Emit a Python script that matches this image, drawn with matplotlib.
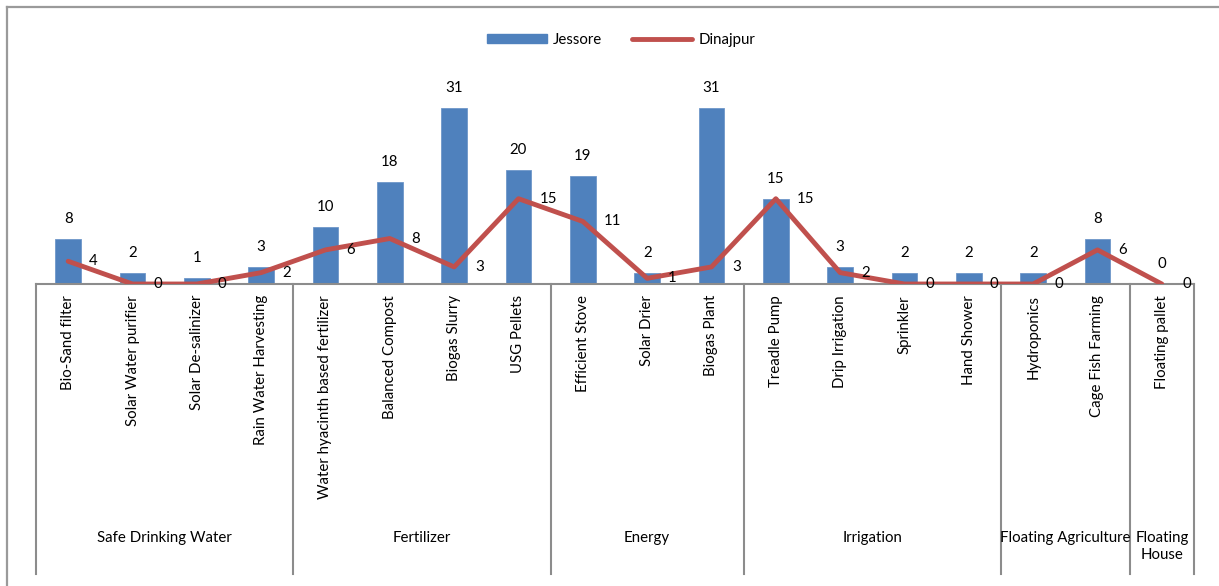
import numpy as np
import matplotlib
matplotlib.use("Agg")
import matplotlib.pyplot as plt
from matplotlib.lines import Line2D
from matplotlib.patches import Patch
import matplotlib.transforms as mtransforms

technologies = [
    "Bio-Sand filter", "Solar Water purifier", "Solar De-salinizer", "Rain Water Harvesting",
    "Water hyacinth based fertilizer", "Balanced Compost", "Biogas Slurry", "USG Pellets",
    "Efficient Stove", "Solar Drier", "Biogas Plant",
    "Treadle Pump", "Drip Irrigation", "Sprinkler", "Hand Shower",
    "Hydroponics", "Cage Fish Farming",
    "Floating pallet",
]
groups = ["Safe Drinking Water", "Fertilizer", "Energy", "Irrigation",
          "Floating Agriculture", "Floating\nHouse"]
group_sizes = [4, 4, 3, 4, 2, 1]

jessore = [8, 2, 1, 3, 10, 18, 31, 20, 19, 2, 31, 15, 3, 2, 2, 2, 8, 0]
dinajpur = [4, 0, 0, 2, 6, 8, 3, 15, 11, 1, 3, 15, 2, 0, 0, 0, 6, 0]

BAR_BLUE = "#4F81BD"
LINE_RED = "#C0504D"
GRID_GRAY = "#8C8C8C"
FS = 10.8

W, H = 1219, 586
fig = plt.figure(figsize=(W / 100, H / 100), dpi=100)
plt.rcParams["font.family"] = ["Lato", "DejaVu Sans"]

# chart area outline (top and left edges)
fig.add_artist(Line2D([7 / W, 7 / W], [0, 1 - 7 / H], transform=fig.transFigure,
                      color="#9A9A9A", lw=1.6))
fig.add_artist(Line2D([7 / W, 1], [1 - 7 / H, 1 - 7 / H], transform=fig.transFigure,
                      color="#9A9A9A", lw=1.6))

left, right, bottom, top = 36 / W, 1194 / W, 1 - 284 / H, 1 - 85 / H
ax = fig.add_axes([left, bottom, right - left, top - bottom])

x = np.arange(len(technologies))
ax.bar(x, jessore, width=0.4, color=BAR_BLUE, edgecolor="#6F97C9", linewidth=0.6,
       zorder=2, label="Jessore")
ax.plot(x, dinajpur, color=LINE_RED, lw=3.5, solid_joinstyle="round",
        solid_capstyle="round", zorder=3, label="Dinajpur")

for xi, v in zip(x, jessore):
    ax.annotate(str(v), (xi, v), xytext=(0, 20), textcoords="offset pixels",
                ha="center", va="center", fontsize=FS, color="black", zorder=4)
for xi, v in zip(x, dinajpur):
    ax.annotate(str(v), (xi, v), xytext=(21, 0), textcoords="offset pixels",
                ha="left", va="center", fontsize=FS, color="black", zorder=4)

ax.set_xlim(-0.5, len(technologies) - 0.5)
ax.set_ylim(0, 35)
ax.set_yticks([])
for s in ["top", "right", "left"]:
    ax.spines[s].set_visible(False)
ax.spines["bottom"].set_color(GRID_GRAY)
ax.spines["bottom"].set_linewidth(1.5)
ax.set_xticks(x)
ax.set_xticklabels(technologies, rotation=90, fontsize=FS)
ax.tick_params(axis="x", length=0, pad=8)

# category group separators and labels below the axis
trans = mtransforms.blended_transform_factory(ax.transData, ax.transAxes)
ax_h = H * (top - bottom)
y_sep_end = -(574 - 284) / ax_h
y_group = -(531 - 284) / ax_h
edges = np.concatenate([[0], np.cumsum(group_sizes)]) - 0.5
for e in edges:
    ax.add_line(Line2D([e, e], [0, y_sep_end], transform=trans, color=GRID_GRAY,
                       lw=1.5, clip_on=False))
for g, a, b in zip(groups, edges[:-1], edges[1:]):
    ax.text((a + b) / 2, y_group, g, transform=trans, ha="center", va="top",
            fontsize=FS, linespacing=1.3, clip_on=False)

handles = [Patch(facecolor=BAR_BLUE, edgecolor=BAR_BLUE),
           Line2D([0], [0], color=LINE_RED, lw=3.5, solid_capstyle="round")]
fig.legend(handles, ["Jessore", "Dinajpur"], loc="center", ncol=2, frameon=False,
           bbox_to_anchor=(621 / W, 1 - 40 / H), fontsize=FS, handlelength=4.0,
           handleheight=0.6, columnspacing=2.0, handletextpad=0.4)

fig.savefig("out.png", dpi=100, facecolor="white")
